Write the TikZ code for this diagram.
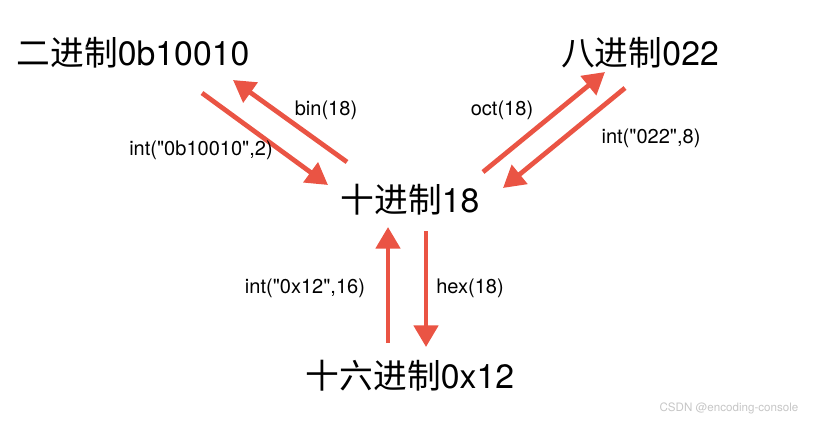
\documentclass[tikz,border=0pt]{standalone}
\usepackage{fontspec}
\setmainfont{TeX Gyre Heros}[Ligatures=TeXOff]
\newfontfamily\cjk{Noto Sans CJK SC}
\usetikzlibrary{arrows.meta}
\definecolor{convred}{RGB}{234,84,68}
\tikzset{
  basebox/.style={font=\fontsize{32}{37}\selectfont, inner sep=0pt},
  funclabel/.style={font=\fontsize{19}{22}\selectfont, inner sep=0pt},
  convarrow/.style={-{Triangle[length=0.72cm,width=0.8cm]}, line width=4.5pt, convred},
}

\begin{document}
\begin{tikzpicture}[x=0.03333cm, y=-0.03333cm]
  \useasboundingbox (0,0) rectangle (837,425);

  % Zahlensysteme
  \node[basebox] (bin) at (133,53) {{\cjk 二进制}0b10010};
  \node[basebox] (oct) at (640,53) {{\cjk 八进制}022};
  \node[basebox] (dec) at (410,200) {{\cjk 十进制}18};
  \node[basebox] (hex) at (410,376) {{\cjk 十六进制}0x12};

  % Pfeilenden
  \coordinate (bin-a) at (347,162); \coordinate (bin-b) at (233,80);
  \coordinate (bin-c) at (202,93);  \coordinate (bin-d) at (328,185);
  \coordinate (oct-a) at (483,172); \coordinate (oct-b) at (605,72);
  \coordinate (oct-c) at (625,88);  \coordinate (oct-d) at (503,188);
  \coordinate (hex-a) at (388,343); \coordinate (hex-b) at (388,227);
  \coordinate (hex-c) at (426,231); \coordinate (hex-d) at (426,347);

  % Umwandlungen
  \draw[convarrow] (bin-a) -- (bin-b);
  \draw[convarrow] (bin-c) -- (bin-d);
  \draw[convarrow] (oct-a) -- (oct-b);
  \draw[convarrow] (oct-c) -- (oct-d);
  \draw[convarrow] (hex-a) -- (hex-b);
  \draw[convarrow] (hex-c) -- (hex-d);

  % Funktionen
  \node[funclabel] (binfn) at (326,110) {bin(18)};
  \node[funclabel] (binint) at (201,150) {int("0b10010",2)};
  \node[funclabel] (octfn) at (502,110) {oct(18)};
  \node[funclabel] (octint) at (651,138) {int("022",8)};
  \node[funclabel] (hexint) at (305,288) {int("0x12",16)};
  \node[funclabel] (hexfn) at (470,288) {hex(18)};

  \node[font=\fontsize{11}{13}\selectfont, text=gray!45] (mark) at (729,408) {CSDN @encoding-console};
\end{tikzpicture}
\end{document}
